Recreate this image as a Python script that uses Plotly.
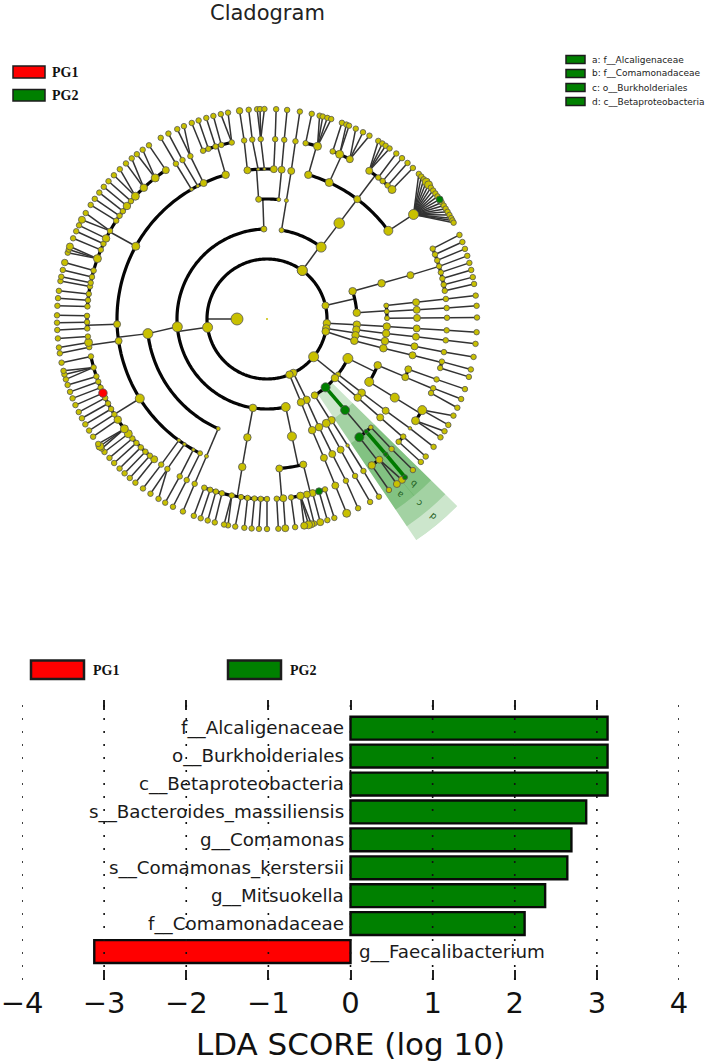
import math
import plotly.graph_objects as go

W, H = 709, 1064

# ---------- bar chart data ----------
taxa = ["f__Alcaligenaceae", "o__Burkholderiales", "c__Betaproteobacteria",
        "s__Bacteroides_massiliensis", "g__Comamonas", "s__Comamonas_kerstersii",
        "g__Mitsuokella", "f__Comamonadaceae", "g__Faecalibacterium"]
lda_score = [3.13, 3.13, 3.13, 2.87, 2.69, 2.64, 2.37, 2.12, -3.12]
lda_ticks = [-4, -3, -2, -1, 0, 1, 2, 3, 4]
lda_ticktext = ["\u22124", "\u22123", "\u22122", "\u22121", "0", "1", "2", "3", "4"]
group_names = ["PG1", "PG2"]
group_colors = ["#ff0000", "#008000"]
clade_legend = ["a: f__Alcaligenaceae", "b: f__Comamonadaceae",
                "c: o__Burkholderiales", "d: c__Betaproteobacteria"]

# ---------- cladogram data: taxonomic level radius and (parent angle, child angles) ----------
level_r = [30, 60, 90, 120, 150, 180, 210]
kingdom = [(None, [270])]
phylum = [(270, [36, 77, 94, 99, 102, 129, 154, 158, 262, 396])]
klass = [(262, [168, 189, 265, 358]), (36, [9.3, 37]), (77, [72, 86]), (94, [93.6]),
         (99, [96.8, 100.4]), (102, [104]), (129, [116, 128, 131, 139.4, 148]),
         (154, [153.9]), (158, [157.8])]
order = [(168, [168]), (189, [189.4]), (265, [204, 263]), (358, [356, 365.6]), (9.3, [9.3]),
         (37, [37]), (72, [72.7]), (86, [83.6, 86.4, 89.6]), (93.6, [93.6]), (96.8, [96.9]),
         (100.4, [100.6]), (104, [104.1]), (116, [112.7, 121.6]), (128, [127.9]), (131, [130.9]),
         (139.4, [139.4]), (148, [147.5, 150.4]), (153.9, [154.3]), (157.8, [157.9])]
family = [(168, [166, 175.3]), (189.4, [189.5]), (204, [203.8]),
          (263, [206.5, 209.4, 213.4, 216, 238, 261.6, 268, 299, 329.8, 332.5, 335, 344]),
          (356, [352.5, 356.6, 359, 362.6]), (365.6, [365.6]), (9.3, [9.3]),
          (37, [16, 24.5, 37, 54]), (72.7, [73]), (83.6, [83.6]), (86.4, [86.5]), (89.6, [89.6]),
          (93.6, [93.6]), (96.9, [96.8]), (100.6, [100.5]), (104.1, [104]),
          (112.7, [109.6, 112.8]), (121.6, [121.6]), (127.9, [127.7]), (130.9, [131]),
          (139.4, [136.2, 138.6, 142]), (147.5, [147.5]), (150.4, [150.6]), (154.3, [154.2]),
          (157.9, [157.7])]
genus = [(166, [161.2, 163.2, 165.3, 167.2, 169.3, 172.3]), (175.3, [174.8, 176.9]),
         (189.5, [180, 182, 184, 186.2, 188.3, 191.3, 194.5, 196.5, 198.4, 200.4]),
         (203.8, [203.7]), (206.5, [206.5]), (209.4, [209]), (213.4, [213.6]), (216, [216]),
         (238, [218.8, 220.6, 222.5, 224.5, 226.5, 228.4, 230.4, 232.4, 236, 238, 240, 242,
                244, 245.7, 247.6, 249.6, 251.4, 254.4, 258]),
         (261.6, [261, 262.5, 264.4]), (268, [267, 269, 271]),
         (299, [274, 276, 278, 280.4, 281.6, 283.5, 285.6, 289.6, 292.6, 294.7, 296.6, 299.3,
                303.1, 305, 306.8, 308.9, 310.9, 313, 316.8, 321.6, 325.8]),
         (329.8, [329.6]), (332.5, [332]), (335, [334.8]),
         (344, [339.2, 341, 343.4, 345.3, 348.7]),
         (352.5, [352.7]), (356.6, [355.3]), (359, [358]), (362.6, [362.6]), (365.6, [365.5]),
         (9.3, [9.1]), (16, [12.4, 16.3]), (24.5, [21.4, 23.8, 27.4]),
         (37, [34.6, 38.2, 40, 42.1, 44]), (54, [54.5]),
         (73, [67, 69, 71, 73, 75, 77, 79, 81]),
         (83.6, [83.6]), (86.5, [86.5]), (89.6, [89.6]), (93.6, [93.6]), (96.8, [96.8]),
         (100.5, [100.6]), (104, [103.7, 105.8]), (109.6, [109.6]), (112.8, [112.6, 114.3]),
         (121.6, [120.4, 124.4]), (127.7, [127.4]), (131, [130.8, 133]), (136.2, [136.2]),
         (138.6, [138.7]), (142, [141.4, 144.4]), (147.5, [147.6]), (150.6, [150.7]),
         (154.2, [154]), (157.7, [157.7])]
species = [(161.2, [161.3]), (163.2, [163.3]), (165.3, [165.3]), (167.2, [167]),
           (169.3, [167.8, 168.6, 169.8]), (172.3, [172.3]), (174.8, [175]), (176.9, [176.9]),
           (180, [180]), (182, [182.2]), (184, [184.2]), (186.2, [186.2]), (188.3, [188.7]),
           (191.3, [190.7, 191.8]), (194.5, [194.4]), (196.5, [196.4]), (198.4, [198.4]),
           (200.4, [200.4]), (203.7, [203.6]), (206.5, [206.6]), (209, [209]),
           (213.6, [211.1, 213.7]), (216, [216.2]), (218.8, [218.8]), (220.6, [220.8]),
           (222.5, [222.7]), (224.5, [224.6]), (226.5, [226.7]), (228.4, [228.6]),
           (230.4, [230.7]), (232.4, [231.9, 232.7, 233.5]), (236, [235.9]), (238, [237.9]),
           (240, [239.9]), (242, [241.8]), (244, [243.7]), (245.7, [245.8]), (247.6, [247.8]),
           (249.6, [249.7]), (251.4, [251.7]), (254.4, [253.3, 254.7, 255.7]), (258, [258]),
           (261, [260.6]), (262.5, [262.2]), (264.4, [264.7]), (267, [267]), (269, [269]),
           (271, [271]), (274, [273.6]), (276, [275.7]), (278, [277.7]), (280.4, [280.4]),
           (281.6, [281.6]), (283.5, [283.5]), (285.6, [285.6]), (289.6, [288.4, 289.3, 290.2]),
           (292.6, [292.6]), (294.7, [294.7]), (296.6, [296.5]), (299.3, [298.2, 300.3]),
           (303.1, [302.9]), (305, [304.9]), (306.8, [307]), (308.9, [309]), (310.9, [311]),
           (313, [313.2, 315.5]), (316.8, [317.8, 319.9]), (321.6, [321.7, 323.7]),
           (325.8, [325.8]), (329.6, [329.6]), (332, [332]), (334.8, [334.7, 336.7]),
           (339.2, [339]), (341, [341]), (343.4, [343.2]), (345.3, [345.2]),
           (348.7, [347.3, 349.3]), (352.7, [352.5]), (355.3, [355]), (358, [357.3, 358.1, 359.3]),
           (362.6, [362.5]), (365.5, [365.5]), (9.1, [9]), (12.4, [12.3]),
           (16.3, [14.5, 15.4, 16.7, 17.8]), (21.4, [20.9]), (23.8, [22.2, 23]),
           (27.4, [25, 27.2, 29.2]), (34.6, [32, 33.3, 34.4, 35.7]), (38.2, [38]), (40, [40]),
           (42.1, [42]), (44, [44]),
           (54.5, [46.3, 47.3, 48.3, 49.3, 50.3, 51.3, 52.3, 53.3, 54.3, 55.3, 56.3, 57.3,
                   58.3, 59.3, 60.3, 61.3, 62, 62.7]),
           (67, [66.4]), (69, [68.5]), (71, [70.5]), (73, [72.5]), (75, [74.5]), (77, [76.5]),
           (79, [78.5]), (81, [80.4]), (83.6, [83.6]), (86.5, [86.4]), (89.6, [89.6]),
           (93.6, [93.6]), (96.8, [96.8]), (100.6, [100.4]), (103.7, [103.9]), (105.8, [106]),
           (109.6, [109.5]), (112.6, [112.4]), (114.3, [115]), (120.4, [117.4, 120.3]),
           (124.4, [122.3, 124.3]), (127.4, [127.5]), (130.8, [130.9]), (133, [132.9]),
           (136.2, [136]), (138.7, [138.9]), (141.4, [140, 141.8]), (144.4, [144.5]),
           (147.6, [147.8]), (150.7, [150.6]), (154, [154.3]), (157.7, [157.7])]
clades = [kingdom, phylum, klass, order, family, genus, species]

node_default_diam = {30: 12, 60: 7.5, 90: 7.5, 120: 7.5, 150: 7, 180: 5.5, 210: 5.5}
node_diam = {(60, 36): 10, (60, 396): 10, (60, 129): 10, (60, 262): 10, (60, 77): 7,
             (90, 37): 10, (90, 168): 9, (90, 116): 10, (90, 265): 10, (90, 139.4): 9,
             (90, 9.3): 5, (90, 358): 6, (90, 148): 7, (90, 128): 5,
             (120, 263): 10, (120, 37): 10.5, (120, 121.6): 9, (120, 150.4): 8, (120, 168): 9,
             (120, 139.4): 9, (120, 356): 6, (120, 365.6): 4, (120, 9.3): 4, (120, 204): 4,
             (120, 83.6): 5, (120, 86.4): 5, (120, 89.6): 5,
             (150, 344): 7.5, (150, 16): 7.5, (150, 24.5): 8, (150, 54): 9, (150, 238): 9,
             (150, 299): 8, (150, 121.6): 9, (150, 142): 9, (150, 138.6): 4.5, (150, 136.2): 4.5,
             (150, 206.5): 5, (150, 209.4): 3.5, (150, 213.4): 3.5, (150, 216): 3.5,
             (150, 329.8): 3.5, (150, 332.5): 3.5, (150, 203.8): 4, (150, 147.5): 3.5,
             (150, 189.5): 7.5, (150, 356.6): 3, (150, 359): 3,
             (180, 262.5): 8, (180, 289.6): 8, (180, 296.6): 7.5, (180, 308.9): 7.5,
             (180, 313): 8, (180, 316.8): 7.5, (180, 321.6): 8, (180, 325.8): 7,
             (180, 16.3): 8, (180, 23.8): 8, (180, 27.4): 7, (180, 34.6): 7, (180, 44): 8,
             (180, 54.5): 10, (180, 120.4): 9, (180, 124.4): 8, (180, 245.7): 8.5,
             (180, 230.4): 8, (180, 232.4): 8, (180, 236): 7.5, (180, 163.2): 7,
             (180, 167.2): 7, (180, 169.3): 7.5, (180, 165.3): 7, (180, 174.8): 7,
             (180, 141.4): 7, (180, 144.4): 7.5, (180, 138.7): 4.5, (180, 127.4): 3.5,
             (180, 349): 5, (180, 157.7): 7, (180, 218.8): 7, (180, 218.9): 7,
             (210, 157.7): 8, (210, 165.3): 7, (210, 175): 7, (210, 232.7): 8, (210, 352.5): 6.5,
             (210, 285.6): 6.5, (210, 290.2): 7, (210, 298.2): 7, (210, 138.9): 5,
             (210, 141.8): 7, (210, 140): 7, (210, 167.8): 7, (210, 168.6): 8, (210, 169.8): 7,
             (210, 55.3): 7, (210, 50.3): 8, (210, 49.3): 8}
red_nodes = [(180, 245.7)]
green_nodes = [(90, 139.4), (120, 139.4), (150, 142), (150, 138.6), (180, 138.7), (210, 138.9),
               (180, 163.2), (210, 55.3)]
green_edges = [(90, 139.4, 120, 139.4), (150, 138.6, 180, 138.7), (180, 138.7, 210, 138.9)]

wedge_names = ["d", "c", "a", "b"]
wedge_theta = [140.25, 140.25, 143.1, 137.4]
wedge_width = [11.5, 11.5, 5.8, 5.8]
wedge_base = [90, 120, 150, 150]
wedge_top = [267, 250, 230, 230]
wedge_label_r = [258, 239, 220, 220]
wedge_label_theta = [140, 140.4, 142.8, 138.3]

# ---------- geometry of the page ----------
CX, CY, RMAX = 267, 319, 267


def px(x):
    return x / W


def py(y):
    return 1 - y / H


fig = go.Figure()

for i, name in enumerate(wedge_names):
    fig.add_trace(go.Barpolar(r=[wedge_top[i] - wedge_base[i]], base=[wedge_base[i]],
                              theta=[wedge_theta[i]], width=[wedge_width[i]],
                              marker=dict(color="rgba(0,128,0,0.2)", line=dict(width=0)),
                              name=name, showlegend=False, hoverinfo="skip"))

thin_r, thin_t, thick_r, thick_t = [], [], [], []
nodes = []
for li, groups in enumerate(clades):
    rad = level_r[li]
    prev = level_r[li - 1] if li else None
    for parent, kids in groups:
        for k in kids:
            nodes.append((rad, k))
        if parent is None:
            continue
        lo, hi = min(kids), max(kids)
        if rad == level_r[-1]:
            for k in kids:
                thin_r += [prev, rad, None]
                thin_t += [parent, k, None]
            continue
        end = min(max(parent, lo), hi)
        thin_r += [prev, rad, None]
        thin_t += [parent, end, None]
        if len(kids) > 1:
            t = lo
            while t < hi:
                thick_r.append(rad)
                thick_t.append(t)
                t += 1
            thick_r += [rad, None]
            thick_t += [hi, None]

fig.add_trace(go.Scatterpolar(r=thin_r, theta=thin_t, mode="lines", showlegend=False,
                              line=dict(color="#333333", width=1.5), hoverinfo="skip"))
fig.add_trace(go.Scatterpolar(r=thick_r, theta=thick_t, mode="lines", showlegend=False,
                              line=dict(color="#050505", width=3.2), hoverinfo="skip"))
ge_r, ge_t = [], []
for r0, t0, r1, t1 in green_edges:
    ge_r += [r0, r1, None]
    ge_t += [t0, t1, None]
fig.add_trace(go.Scatterpolar(r=ge_r, theta=ge_t, mode="lines", showlegend=False,
                              line=dict(color="#007a00", width=3.6), hoverinfo="skip"))

nodes.sort(key=lambda n: (n in green_nodes or n in red_nodes))
fig.add_trace(go.Scatterpolar(
    r=[n[0] for n in nodes], theta=[n[1] for n in nodes], mode="markers", showlegend=False,
    hoverinfo="skip",
    marker=dict(size=[node_diam.get(n, node_default_diam[n[0]]) for n in nodes],
                color=["#ff0000" if n in red_nodes else "#008000" if n in green_nodes else "#c8c000"
                       for n in nodes],
                opacity=1, line=dict(color="#555555", width=0.8))))
fig.add_trace(go.Scatterpolar(r=[0], theta=[0], mode="markers", showlegend=False,
                              hoverinfo="skip", marker=dict(size=2, color="#c8c000")))

positions = list(range(len(taxa)))
fig.add_trace(go.Bar(x=lda_score, y=positions, orientation="h", width=0.82, showlegend=False,
                     xaxis="x", yaxis="y", hoverinfo="skip",
                     marker=dict(color=[group_colors[0] if v < 0 else group_colors[1]
                                        for v in lda_score],
                                 line=dict(color="#0a0a0a", width=2.4))))

annotations, shapes = [], []
for i, name in enumerate(taxa):
    neg = lda_score[i] < 0
    annotations.append(dict(x=0, y=i, xref="x", yref="y", text=name, showarrow=False,
                            xanchor="left" if neg else "right", xshift=6 if neg else -5,
                            yanchor="middle",
                            font=dict(family="DejaVu Sans", size=18.3, color="#1a1a1a")))

for t in lda_ticks:
    shapes.append(dict(type="line", xref="x", yref="y domain", x0=t, x1=t, y0=0, y1=1,
                       layer="above", line=dict(color="#111111", width=1.6, dash="2px,11px")))

annotations.append(dict(x=px(267), y=py(13), xref="paper", yref="paper", text="Cladogram",
                        yanchor="middle", showarrow=False,
                        font=dict(family="DejaVu Sans", size=21, color="#222222")))


def swatch(x0, x1, y0, y1, color, lw=1.5):
    shapes.append(dict(type="rect", xref="paper", yref="paper", x0=px(x0), x1=px(x1),
                       y0=py(y1), y1=py(y0), fillcolor=color, line=dict(color="#1c1c1c", width=lw)))


def label(x, y, text, family, size, bold=False, color="#111111"):
    annotations.append(dict(x=px(x), y=py(y), xref="paper", yref="paper", xanchor="left",
                            yanchor="middle", text=f"<b>{text}</b>" if bold else text,
                            showarrow=False, font=dict(family=family, size=size, color=color)))


for (y0, y1), c, n in zip([(66, 78), (89.5, 101)], group_colors, group_names):
    swatch(13, 45, y0, y1, c)
    label(50, (y0 + y1) / 2, n, "Liberation Serif", 14, True)
for (x0, x1), c, n in zip([(31, 84), (228, 281)], group_colors, group_names):
    swatch(x0, x1, 660.5, 679, c, 2.5)
    label(x1 + 7, 670.5, n, "Liberation Serif", 14, True)
for i, n in enumerate(clade_legend):
    y = 59.5 + 14 * i
    swatch(566, 585, y - 4, y + 4, "#008000", 1.5)
    label(590, y, n, "DejaVu Sans", 9, False, "#222222")

for i, n in enumerate(wedge_names):
    a = math.radians(wedge_label_theta[i])
    annotations.append(dict(x=px(CX + wedge_label_r[i] * math.sin(a)),
                            y=py(CY - wedge_label_r[i] * math.cos(a)),
                            xref="paper", yref="paper", text=n, showarrow=False, textangle=-140,
                            yanchor="middle",
                            font=dict(family="DejaVu Sans", size=9, color="#1f5f1f")))

fig.update_layout(
    template="none",
    width=W, height=H, autosize=False, margin=dict(l=0, r=0, t=0, b=0),
    paper_bgcolor="white", plot_bgcolor="white", showlegend=False, font=dict(family="DejaVu Sans"),
    polar=dict(domain=dict(x=[px(CX - RMAX), px(CX + RMAX)], y=[py(CY + RMAX), py(CY - RMAX)]),
               bgcolor="rgba(0,0,0,0)", barmode="overlay",
               radialaxis=dict(range=[0, RMAX], visible=False),
               angularaxis=dict(visible=False, rotation=90, direction="clockwise")),
    xaxis=dict(domain=[px(22), px(679)], range=[-4, 4], tickvals=lda_ticks, ticktext=lda_ticktext,
               ticks="inside", ticklen=10, tickwidth=1.5, tickcolor="#222222", mirror="ticks",
               ticklabelstandoff=3,
               showgrid=False, zeroline=False, showline=False, anchor="y", automargin=False,
               tickfont=dict(family="DejaVu Sans", size=29, color="#111111"),
               title=dict(text="LDA SCORE (log 10)", standoff=14,
                          font=dict(family="DejaVu Sans", size=31, color="#111111"))),
    yaxis=dict(domain=[py(980), py(700)], range=[9.02, -1.01], visible=False, anchor="x",
               automargin=False),
    annotations=annotations, shapes=shapes,
)

fig.write_html("out.html", config={"displayModeBar": False},
               post_script="document.body.style.margin='0';")
